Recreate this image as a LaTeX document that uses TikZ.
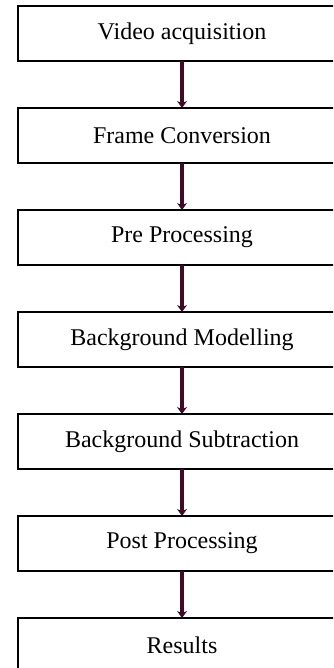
\documentclass[tikz,border=0pt]{standalone}
\usepackage{fontspec}
\setmainfont{Liberation Serif}
\usepackage{xcolor}
\usepackage{tikz}
\usetikzlibrary{positioning,arrows.meta}
\definecolor{flowc}{RGB}{66,10,40}
\tikzset{
	every node/.style = { align = center },
	stage/.style = { draw, line width=1.5pt, rectangle, outer sep=0pt, minimum width=328pt, minimum height=55pt, font=\fontsize{24}{28}\selectfont },
	flow/.style = { -{Stealth[length=7pt,width=10pt]}, draw=flowc, line width=3.5pt },
}

\begin{document}
\begin{tikzpicture}[node distance=47pt]
\clip (0,0) rectangle (333pt,-668pt);
\node (vid)  [stage] at (182pt,-33.5pt) {Video acquisition};
\node (frm)  [stage,below=of vid]  {Frame Conversion};
\node (pre)  [stage,below=of frm]  {Pre Processing};
\node (bgm)  [stage,below=of pre]  {Background Modelling};
\node (bgs)  [stage,below=of bgm]  {Background Subtraction};
\node (post) [stage,below=of bgs]  {Post Processing};
\node (res)  [stage,below=of post] {Results};

\draw[flow] (vid)  -- (frm);
\draw[flow] (frm)  -- (pre);
\draw[flow] (pre)  -- (bgm);
\draw[flow] (bgm)  -- (bgs);
\draw[flow] (bgs)  -- (post);
\draw[flow] (post) -- (res);

\end{tikzpicture}
\end{document}
